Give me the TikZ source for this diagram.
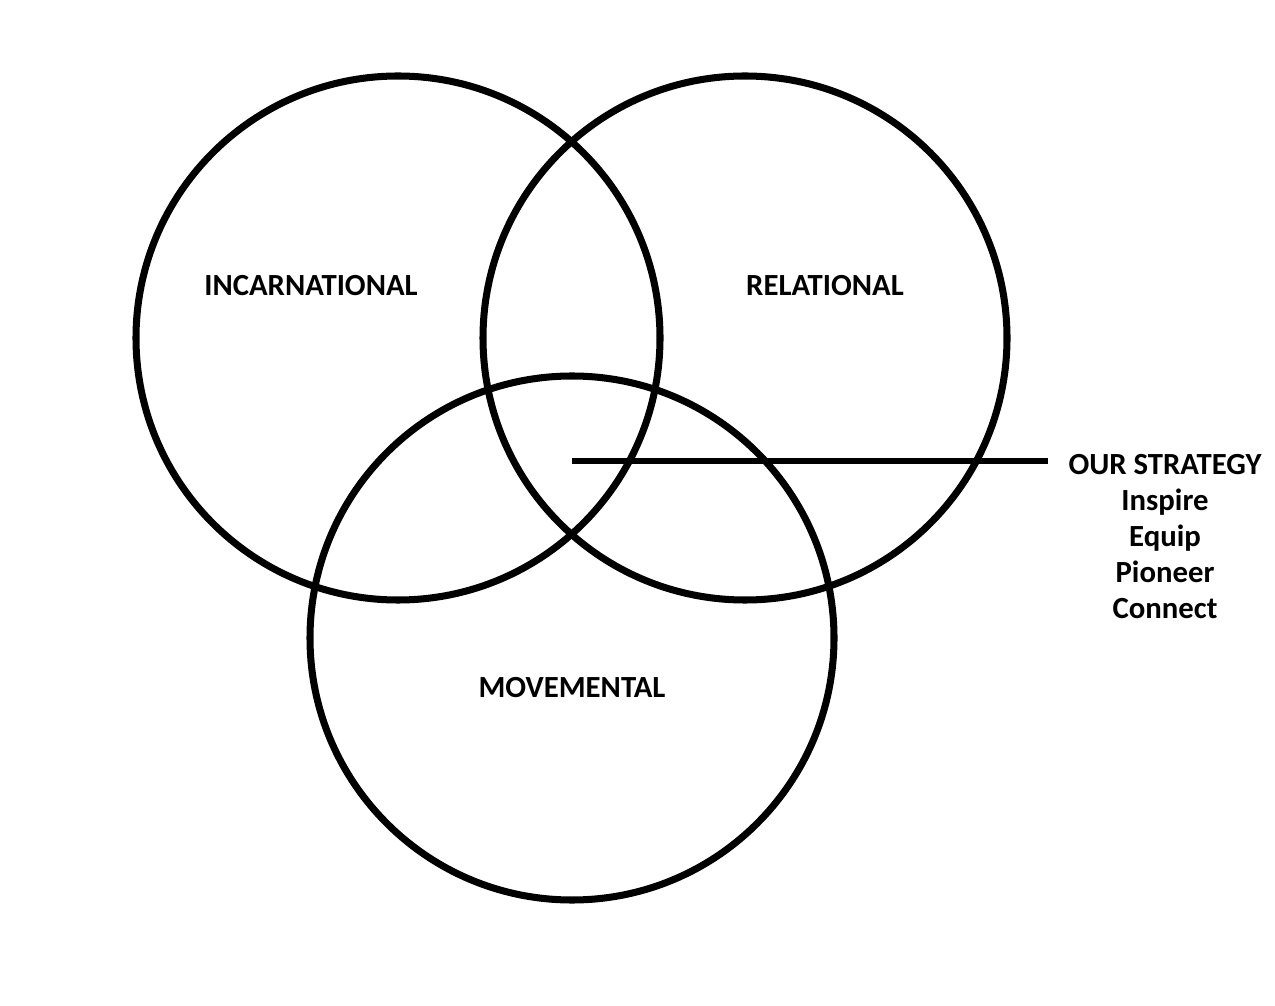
\documentclass[tikz,border=0pt]{standalone}
\usepackage{fontspec}
\setmainfont{Carlito}
\usepackage{tikz}
\begin{document}
\begin{tikzpicture}[x=0.02cm,y=-0.02cm,%
  ring/.style={draw, line width=4pt, circle, minimum size=524*0.02cm, inner sep=0pt},%
  label/.style={font=\fontsize{17.5}{20.5}\selectfont\bfseries}]
\useasboundingbox (0,0) rectangle (1275,1006);
\node[ring] (incarn) at (398,338) {};
\node[ring] (relat) at (745,338) {};
\node[ring] (movem) at (572,638) {};
\node[label] (tincarn) at (311,286) {INCARNATIONAL};
\node[label] (trelat) at (825,286) {RELATIONAL};
\node[label] (tmovem) at (572,688) {MOVEMENTAL};
\coordinate (core) at (572,461);
\node[label, align=center, anchor=north] (strategy) at (1165,448)
  {OUR STRATEGY\\Inspire\\Equip\\Pioneer\\Connect};
\coordinate (tip) at (1048,461);
\draw[line width=3pt] (core) -- (tip);
\end{tikzpicture}
\end{document}
